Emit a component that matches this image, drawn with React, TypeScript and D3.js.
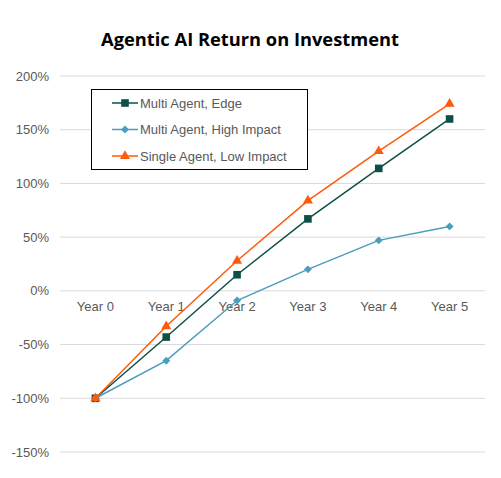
import * as d3 from "d3";

// ── Data ──────────────────────────────────────────
const years = ["Year 0", "Year 1", "Year 2", "Year 3", "Year 4", "Year 5"];
const multiEdge = [-100, -43, 15, 67, 114, 160];
const multiHigh = [-100, -65, -9, 20, 47, 60];
const singleLow = [-100, -33, 28, 84, 130, 174];
const yTicks = [200, 150, 100, 50, 0, -50, -100, -150];

const SERIES = [
  { name: "Multi Agent, Edge", values: multiEdge, color: "#0d5048", marker: "square" },
  { name: "Multi Agent, High Impact", values: multiHigh, color: "#4b9dbc", marker: "diamond" },
  { name: "Single Agent, Low Impact", values: singleLow, color: "#ff5a0a", marker: "triangle" },
];

const W = 501;
const H = 478;
const FONT = "'Liberation Sans', Arial, sans-serif";

function Marker({ kind, x, y, color }: { kind: string; x: number; y: number; color: string }) {
  if (kind === "square") {
    return <rect x={x - 3.8} y={y - 3.8} width={7.6} height={7.6} fill={color} />;
  }
  if (kind === "diamond") {
    const sym = d3.symbol().type(d3.symbolDiamond2).size(40)();
    return <path d={sym ?? ""} transform={`translate(${x},${y})`} fill={color} />;
  }
  const tri = d3.symbol().type(d3.symbolTriangle).size(44)();
  return <path d={tri ?? ""} transform={`translate(${x},${y})`} fill={color} />;
}

export default function App() {
  const x = d3.scaleBand<string>().domain(years).range([60, 485]);
  const y = d3.scaleLinear().domain([-150, 200]).range([452, 76]);
  const cx = (d: string) => (x(d) ?? 0) + x.bandwidth() / 2;

  const line = d3
    .line<number>()
    .x((_, i) => cx(years[i]))
    .y((v) => y(v));

  return (
    <div style={{ margin: -8 }}>
      <svg width={W} height={H} style={{ display: "block", background: "#fff" }}>
        <text
          x={250}
          y={46}
          textAnchor="middle"
          fontFamily="'Open Sans', sans-serif"
          fontWeight="bold"
          fontSize={18.3}
          fill="#000"
        >
          Agentic AI Return on Investment
        </text>

        {/* Gridlines + y labels */}
        {yTicks.map((t) => (
          <g key={t}>
            <line x1={60} x2={485} y1={y(t)} y2={y(t)} stroke="#d9d9d9" strokeWidth={1} />
            <text
              x={49}
              y={y(t) + 4.5}
              textAnchor="end"
              fontFamily={FONT}
              fontSize={13}
              fill="#595959"
            >
              {t}%
            </text>
          </g>
        ))}

        {/* Category labels at the zero line */}
        {years.map((yr) => (
          <text
            key={yr}
            x={cx(yr)}
            y={y(0) + 20}
            textAnchor="middle"
            fontFamily={FONT}
            fontSize={13}
            fill="#595959"
          >
            {yr}
          </text>
        ))}

        {/* Series */}
        {SERIES.map((s) => (
          <g key={s.name}>
            <path d={line(s.values) ?? ""} fill="none" stroke={s.color} strokeWidth={1.5} />
            {s.values.map((v, i) => (
              <Marker key={i} kind={s.marker} x={cx(years[i])} y={y(v)} color={s.color} />
            ))}
          </g>
        ))}

        {/* Legend */}
        <g>
          <rect x={91.5} y={89.5} width={216} height={80} fill="#fff" stroke="#000" strokeWidth={1} />
          {SERIES.map((s, i) => {
            const ly = 103 + i * 26.5;
            return (
              <g key={s.name}>
                <line x1={112} x2={138} y1={ly} y2={ly} stroke={s.color} strokeWidth={1.5} />
                <Marker kind={s.marker} x={125} y={ly} color={s.color} />
                <text x={140} y={ly + 4.5} fontFamily={FONT} fontSize={13} fill="#595959">
                  {s.name}
                </text>
              </g>
            );
          })}
        </g>
      </svg>
    </div>
  );
}
